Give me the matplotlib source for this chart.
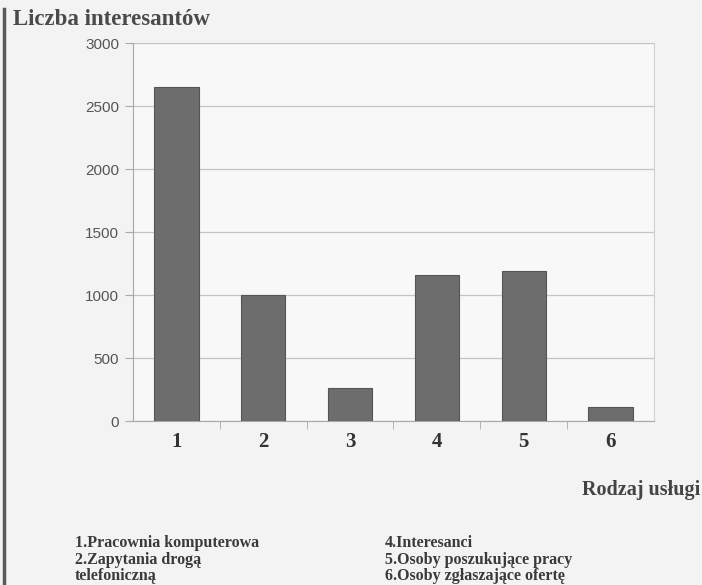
import numpy as np
import matplotlib
matplotlib.use("Agg")
import matplotlib.pyplot as plt
from matplotlib.lines import Line2D

kategorie = ["1", "2", "3", "4", "5", "6"]
wartosci = [2650, 1000, 260, 1160, 1190, 115]
yticki = [0, 500, 1000, 1500, 2000, 2500, 3000]
legenda_lewa = ["1.Pracownia komputerowa", "2.Zapytania drogą", "telefoniczną"]
legenda_prawa = ["4.Interesanci", "5.Osoby poszukujące pracy", "6.Osoby zgłaszające ofertę"]

tlo = "#f3f3f4"
fig = plt.figure(figsize=(7.02, 5.85), dpi=100, facecolor=tlo)
ax = fig.add_axes([0.1895, 0.2803, 0.742, 0.646])
ax.set_facecolor("#f8f8f9")

x = np.arange(len(kategorie))
ax.bar(x, wartosci, width=0.51, color="#6d6d6d", edgecolor="#555555", linewidth=0.8, zorder=3)

ax.set_xlim(-0.5, 5.5)
ax.set_ylim(0, 3000)
ax.set_yticks(yticki)
ax.set_yticklabels([str(v) for v in yticki], fontsize=11, color="#555555", family="Liberation Sans")
ax.grid(axis="y", color="#c4c4c4", linewidth=0.9, zorder=0)
ax.tick_params(axis="y", length=6, color="#aaaaaa", pad=4)

ax.set_xticks(x)
ax.set_xticklabels(kategorie, fontsize=15, fontweight="bold", family="Liberation Serif", color="#333333")
ax.set_xticks(np.arange(0.5, 5.5, 1), minor=True)
ax.tick_params(axis="x", which="major", length=0, pad=8)
ax.tick_params(axis="x", which="minor", length=6, color="#aaaaaa")

for s in ["left", "bottom"]:
    ax.spines[s].set_color("#a8a8a8")
ax.spines["right"].set_color("#d0d0d0")
ax.spines["top"].set_visible(False)

fig.text(0.018, 0.966, "Liczba interesantów", fontsize=16.5, fontweight="bold",
         family="Liberation Serif", color="#4a4a4a", va="center")
fig.text(0.997, 1 - 490 / 585, "Rodzaj usługi", fontsize=14.5, fontweight="bold",
         family="Liberation Serif", color="#444444", ha="right", va="center")

for i, t in enumerate(legenda_lewa):
    fig.text(75 / 702, 1 - (543 + 16.5 * i) / 585, t, fontsize=11.5, fontweight="bold",
             family="Liberation Serif", color="#3a3a3a", va="center")
for i, t in enumerate(legenda_prawa):
    fig.text(385 / 702, 1 - (543 + 16.5 * i) / 585, t, fontsize=11.5, fontweight="bold",
             family="Liberation Serif", color="#3a3a3a", va="center")

# lewa krawędź ramki ze skanu
fig.add_artist(Line2D([0.005, 0.005], [0.0, 0.985], color="#5a5a5a", linewidth=2.5,
                      transform=fig.transFigure))

fig.savefig("out.png", dpi=100, facecolor=tlo)
